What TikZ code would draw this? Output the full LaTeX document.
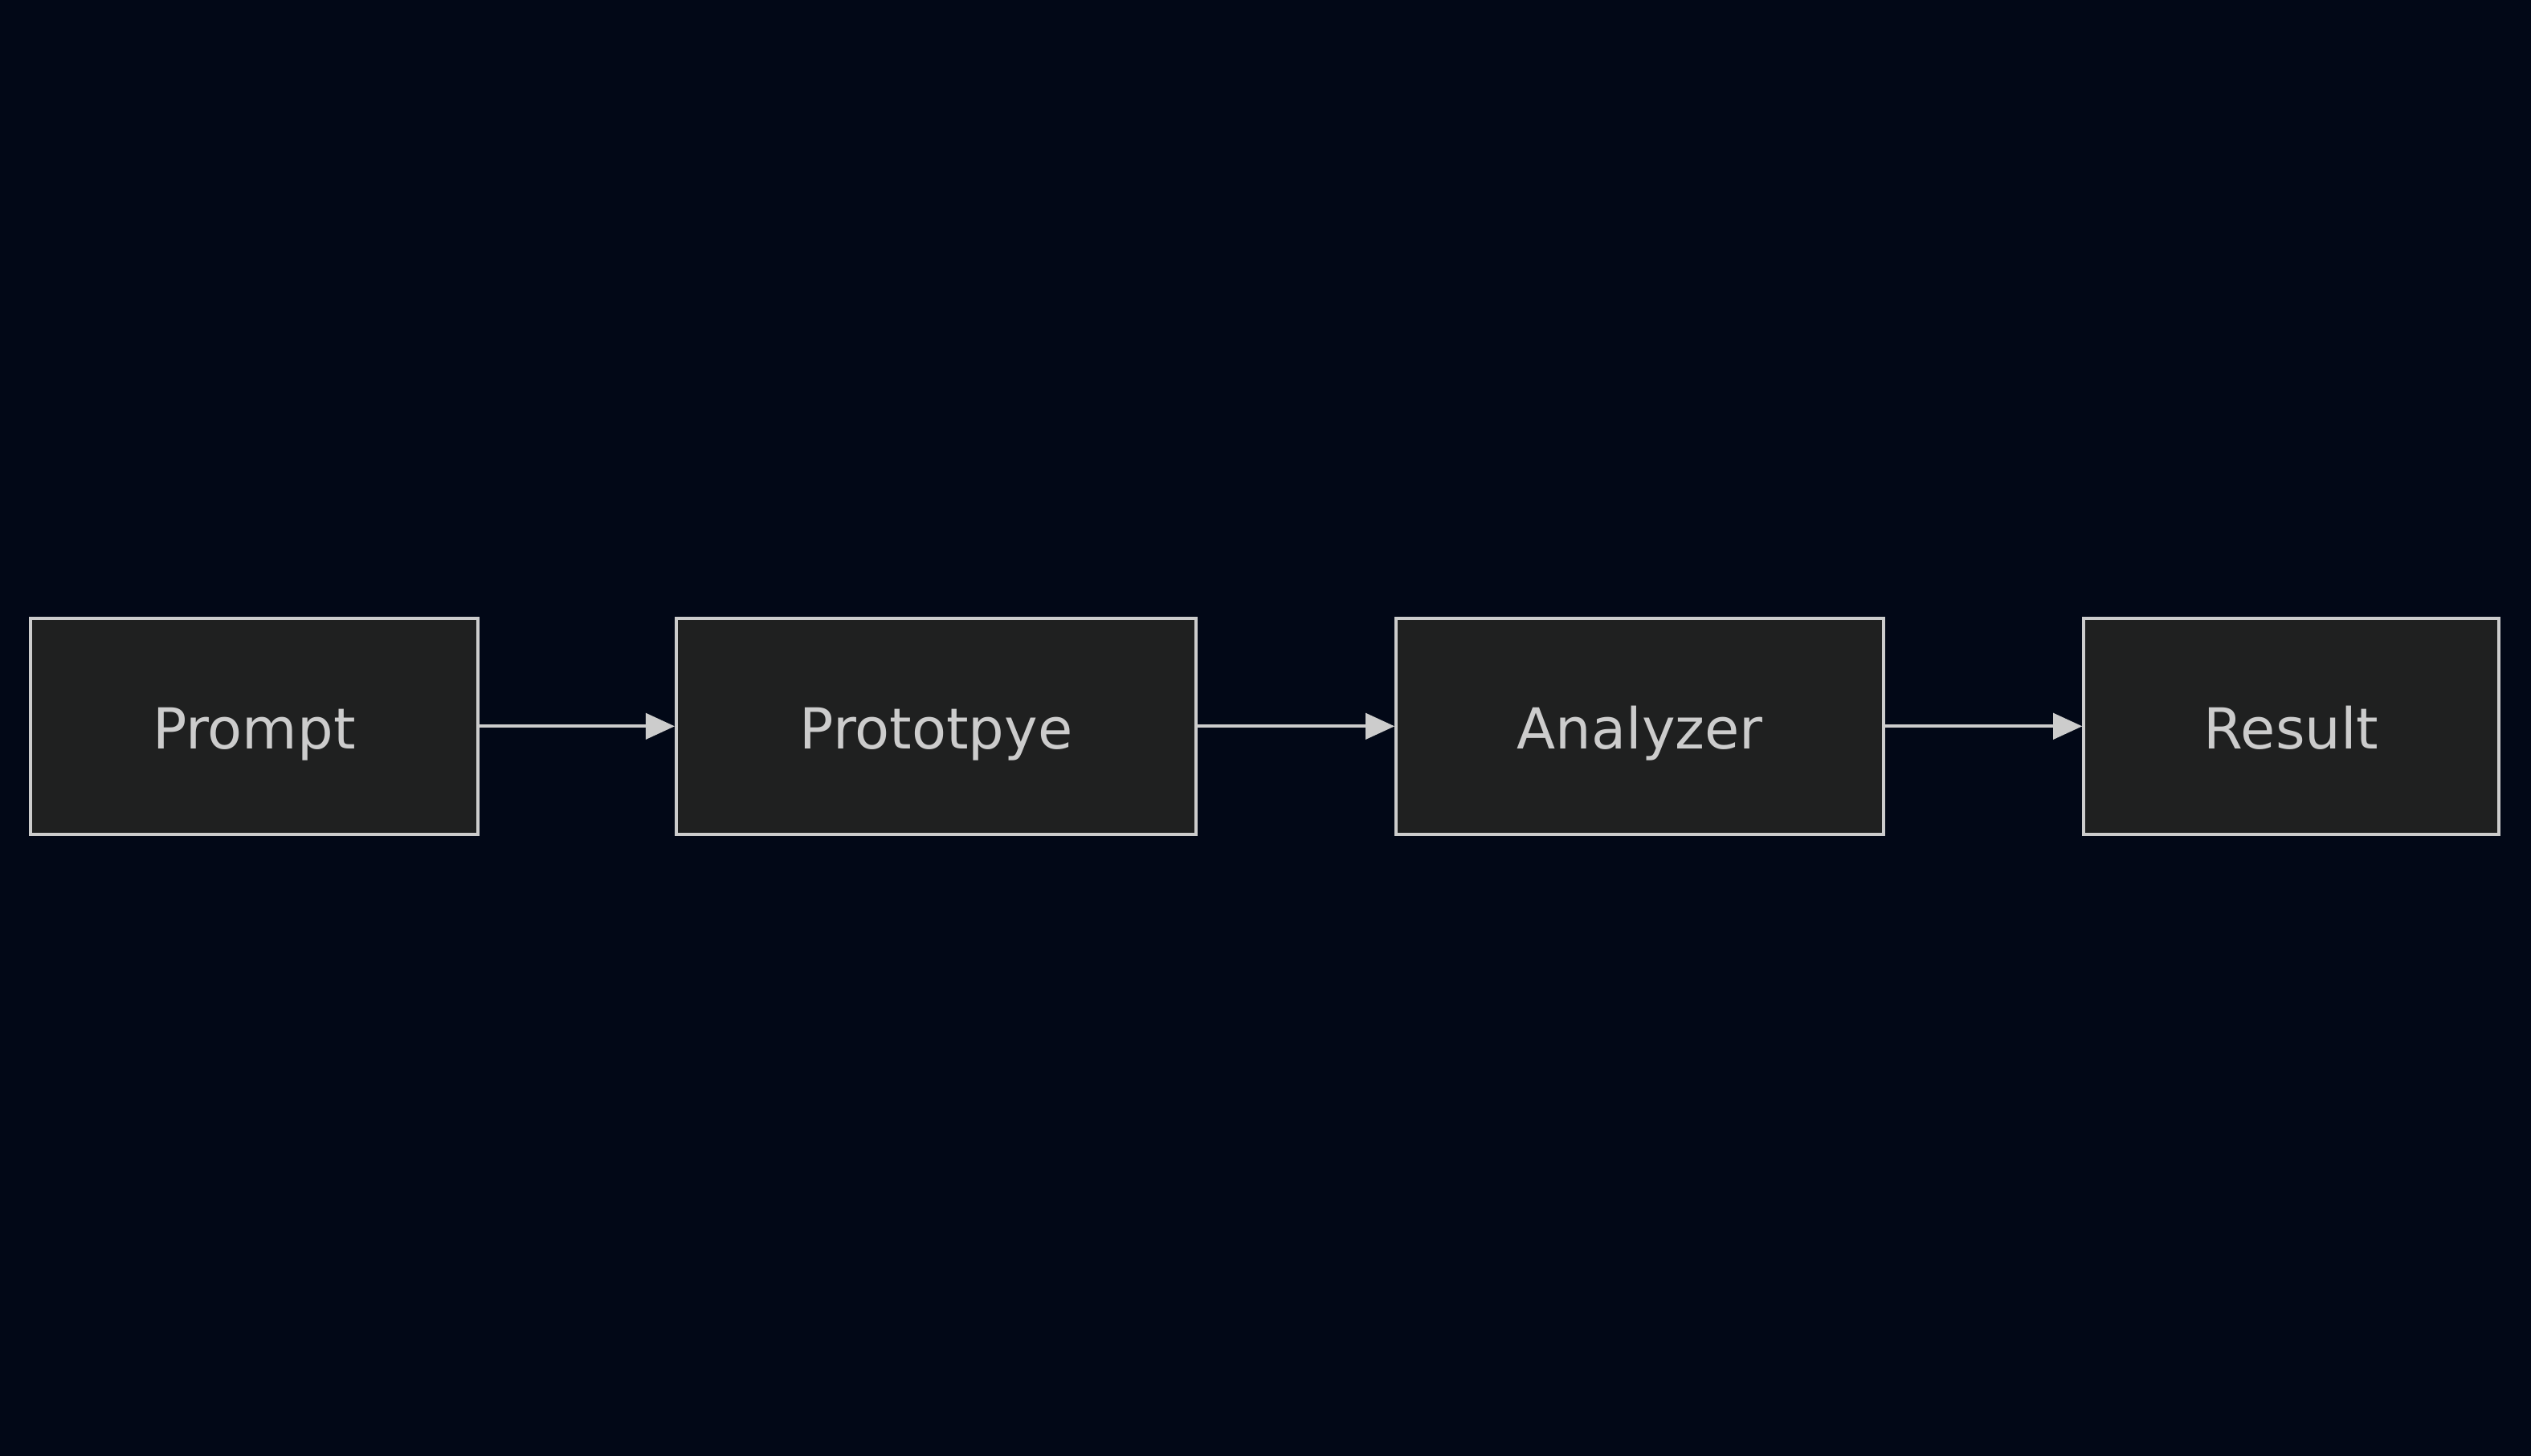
\documentclass[tikz,border=0pt]{standalone}
\usepackage{fontspec}
\setmainfont{DejaVu Sans}
\usetikzlibrary{arrows.meta}
\definecolor{bg}{RGB}{2,8,23}
\definecolor{boxfill}{RGB}{31,32,32}
\definecolor{edge}{RGB}{204,204,204}
\begin{document}
\begin{tikzpicture}[x=1pt,y=-1pt,
  box/.style={draw=edge,line width=2pt,fill=boxfill,text=edge,font=\fontsize{35}{40}\selectfont,inner sep=0pt,text height=31pt,text depth=3pt},
  arr/.style={draw=edge,line width=2pt,-{Triangle[length=18pt,width=16pt]}}]
\fill[bg] (0,0) rectangle (1568,902);
\useasboundingbox (0,0) rectangle (1568,902);
\node[box,minimum width=277pt,minimum height=134pt] (p) at (157.5,450) {Prompt};
\node[box,minimum width=322pt,minimum height=134pt] (q) at (580,450) {Prototpye};
\node[box,minimum width=302pt,minimum height=134pt] (a) at (1016,450) {Analyzer};
\node[box,minimum width=257pt,minimum height=134pt] (r) at (1419.5,450) {Result};
\draw[arr] (p) -- (q);
\draw[arr] (q) -- (a);
\draw[arr] (a) -- (r);
\end{tikzpicture}
\end{document}
